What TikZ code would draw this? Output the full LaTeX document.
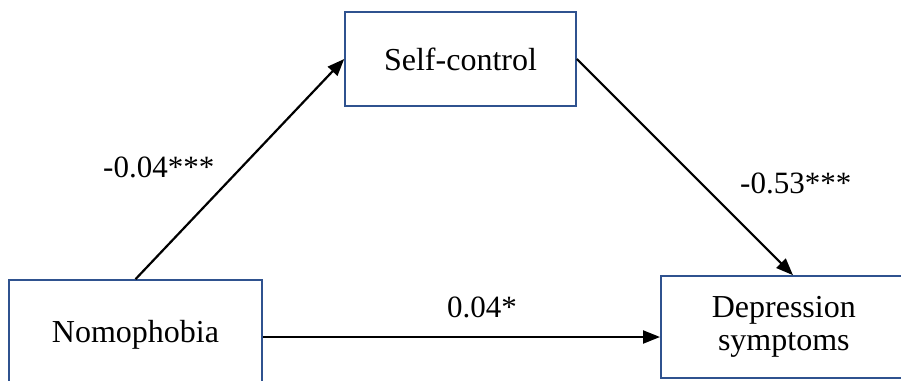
\documentclass[tikz,border=0pt]{standalone}
\usepackage{fontspec}
\setmainfont{Liberation Serif}
\usetikzlibrary{arrows.meta,calc}
\definecolor{boxblue}{RGB}{47,82,143}
\begin{document}
\begin{tikzpicture}[x=1pt,y=-1pt,
  box/.style={draw=boxblue, line width=1.6pt, rectangle, inner sep=0pt,
     font=\fontsize{32}{33}\selectfont},
  arr/.style={draw=black, line width=2.2pt, -{Triangle[length=17pt,width=13pt]}},
  lab/.style={anchor=base west, inner sep=0pt, font=\fontsize{31}{33}\selectfont}]
\useasboundingbox (0,0) rectangle (901,380);
\clip (0,0) rectangle (901,380);
\fill[white] (0,0) rectangle (901,380);
\node[box, minimum width=231pt, minimum height=94pt] (sc) at (460.5,59) {Self-control};
\node[box, minimum width=253pt, minimum height=110pt] (nomo) at (135.5,335) {Nomophobia};
\node[box, minimum width=300pt, minimum height=102pt, anchor=west] (dep) at (660,327)
  {\hspace*{-54pt}\raisebox{-4pt}{\begin{tabular}{@{}c@{}}Depression\\symptoms\end{tabular}}};
\draw[arr] (nomo.north) -- (sc.west);
\draw[arr] (sc.east) -- ([xshift=133pt]dep.north west);
\draw[arr] ([yshift=-2pt]nomo.east) -- ([yshift=-2pt]nomo.east -| dep.west);
\node[lab] (l1) at (103,177) {-0.04***};
\node[lab] (l2) at (740,193) {-0.53***};
\node[lab] (l3) at (447,317) {0.04*};
\end{tikzpicture}
\end{document}
